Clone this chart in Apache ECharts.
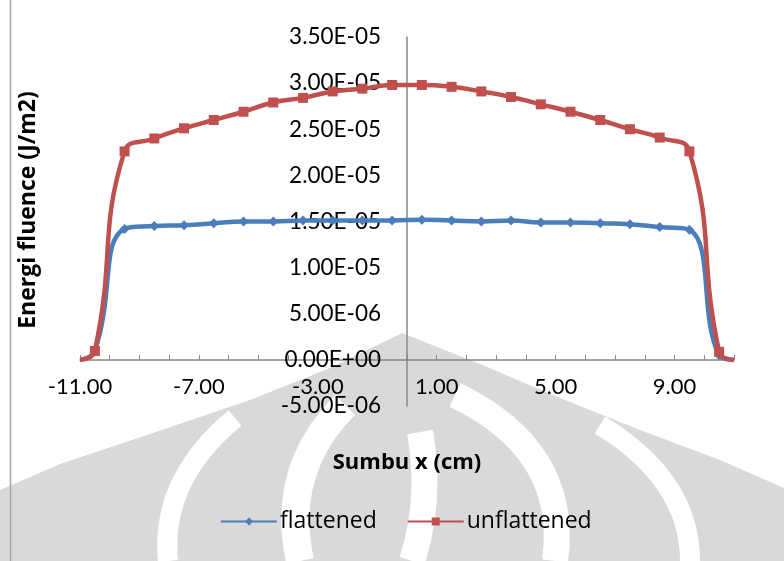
<!DOCTYPE html>
<html>
<head>
<meta charset="utf-8">
<script src="https://cdn.jsdelivr.net/npm/echarts@6/dist/echarts.min.js"></script>
<style>html,body{margin:0;padding:0;background:#fff}#c{width:784px;height:561px}</style>
</head>
<body>
<div id="c"></div>
<script>
// ---- data ----
const xPositions = [-11, -10.5, -9.5, -8.5, -7.5, -6.5, -5.5, -4.5, -3.5, -2.5, -1.5, -0.5,
                    0.5, 1.5, 2.5, 3.5, 4.5, 5.5, 6.5, 7.5, 8.5, 9.5, 10.5, 11];
const flattened = [0, 1.0e-6, 1.42e-5, 1.45e-5, 1.46e-5, 1.48e-5, 1.50e-5, 1.50e-5, 1.51e-5, 1.51e-5, 1.51e-5, 1.51e-5,
                   1.52e-5, 1.51e-5, 1.50e-5, 1.51e-5, 1.49e-5, 1.49e-5, 1.48e-5, 1.47e-5, 1.44e-5, 1.41e-5, 0.5e-6, 0];
const unflattened = [0, 0.97e-6, 2.26e-5, 2.40e-5, 2.51e-5, 2.60e-5, 2.69e-5, 2.79e-5, 2.84e-5, 2.91e-5, 2.94e-5, 2.98e-5,
                     2.98e-5, 2.96e-5, 2.91e-5, 2.85e-5, 2.77e-5, 2.69e-5, 2.60e-5, 2.50e-5, 2.41e-5, 2.26e-5, 0.87e-6, 0];
const xTickLabels = [-11, -7, -3, 1, 5, 9];
const xMinorTicks = [-11,-10,-9,-8,-7,-6,-5,-4,-3,-2,-1,0,1,2,3,4,5,6,7,8,9,10,11];
const yMin = -5e-6, yMax = 3.5e-5, yStep = 5e-6;
const seriesNames = ['flattened', 'unflattened'];

function fmtE(v) {
  if (Math.abs(v) < 1e-15) return '0.00E+00';
  let e = Math.floor(Math.log10(Math.abs(v)) + 1e-9);
  let m = v / Math.pow(10, e);
  if (Math.abs(m) >= 9.995) { m /= 10; e += 1; }
  return m.toFixed(2) + 'E' + (e < 0 ? '-' : '+') + String(Math.abs(e)).padStart(2, '0');
}
function pts(xs, ys) {
  return xs.map((x, i) => {
    const end = (i === 0 || i === xs.length - 1);
    return end ? { value: [x, ys[i]], symbolSize: 0 } : [x, ys[i]];
  });
}

const FONT = 'Lato';
const GRAY = '#d9d9d9';
const AX = '#868686';

// faint background watermark (decoration only)
function band(x1, y1, cx, cy, x2, y2, w) {
  return { type: 'bezierCurve', z: -90, silent: true,
    shape: { x1: x1, y1: y1, cpx1: cx, cpy1: cy, x2: x2, y2: y2 },
    style: { stroke: '#ffffff', lineWidth: w, fill: null, lineCap: 'butt' } };
}

const chart = echarts.init(document.getElementById('c'), null, { renderer: 'canvas' });
chart.setOption({
  animation: false,
  backgroundColor: '#ffffff',
  textStyle: { fontFamily: FONT },
  grid: { left: 80, right: 50, top: 37, bottom: 155, containLabel: false, outerBoundsMode: 'none' },
  xAxis: {
    type: 'value', min: -11, max: 11, position: 'bottom', offset: -46,
    name: 'Sumbu x (cm)', nameLocation: 'middle', nameGap: 92,
    nameTextStyle: { fontFamily: 'Open Sans', fontWeight: 'bold', fontSize: 22, color: '#000' },
    axisLine: { onZero: false, lineStyle: { color: AX, width: 1.5 } },
    axisTick: { show: true, inside: true, length: 5, customValues: xMinorTicks, lineStyle: { color: AX, width: 1 } },
    axisLabel: { customValues: xTickLabels, formatter: v => v.toFixed(2), fontFamily: FONT, fontSize: 22, color: '#000', margin: 16 },
    splitLine: { show: false }
  },
  yAxis: {
    type: 'value', min: yMin, max: yMax, interval: yStep, position: 'left', offset: -327,
    axisLine: { show: true, onZero: false, lineStyle: { color: AX, width: 1.5 } },
    axisTick: { show: false },
    axisLabel: { formatter: fmtE, fontFamily: FONT, fontSize: 22.5, color: '#000', margin: 26 },
    splitLine: { show: false }
  },
  legend: {
    data: seriesNames, top: 505, left: 215,
    itemWidth: 56, itemHeight: 10, itemGap: 30,
    textStyle: { fontFamily: 'Open Sans', fontSize: 23, color: '#000', padding: [0, 0, 0, -2] }
  },
  graphic: [
    { type: 'polygon', z: -100, silent: true,
      shape: { points: [[402,333],[330,368],[250,400],[150,434],[60,464],[0,490],[0,561],[784,561],[784,488],[720,460],[640,430],[560,398],[480,364]] },
      style: { fill: GRAY } },
    band(235, 418, 160, 480, 168, 561, 20),
    band(345, 405, 280, 470, 300, 561, 28),
    band(420, 432, 432, 500, 412, 561, 26),
    band(455, 395, 570, 450, 555, 561, 26),
    band(600, 425, 690, 480, 690, 561, 20),
    { type: 'line', z: -50, silent: true, shape: { x1: 10.5, y1: 0, x2: 10.5, y2: 561 }, style: { stroke: '#a6a6a6', lineWidth: 1.5 } },
    { type: 'text', x: 28, y: 210, rotation: Math.PI / 2,
      style: { text: 'Energi fluence (J/m2)', fontFamily: 'Open Sans', fontWeight: 'bold', fontSize: 23, fill: '#000', align: 'center', verticalAlign: 'middle' } }
  ],
  series: [
    { name: 'flattened', type: 'line', smooth: 0.5, data: pts(xPositions, flattened),
      symbol: 'diamond', symbolSize: 10, z: 3,
      lineStyle: { color: '#4a7ebb', width: 4.5 }, itemStyle: { color: '#4a7ebb' } },
    { name: 'unflattened', type: 'line', smooth: 0.5, data: pts(xPositions, unflattened),
      symbol: 'rect', symbolSize: 10, z: 4,
      lineStyle: { color: '#c0504d', width: 4.5 }, itemStyle: { color: '#c0504d' } }
  ]
});
</script>
</body>
</html>
